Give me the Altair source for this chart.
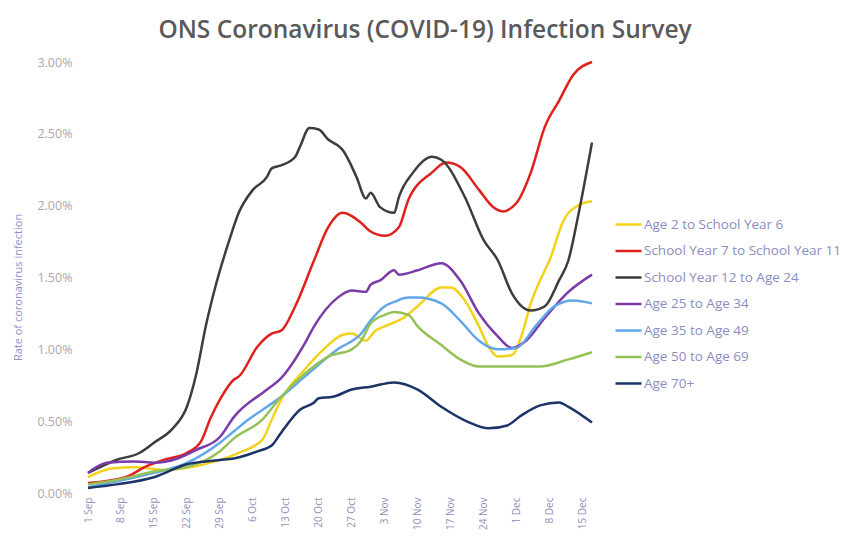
import json
import altair as alt
import pandas as pd

names = [
    "Age 2 to School Year 6",
    "School Year 7 to School Year 11",
    "School Year 12 to Age 24",
    "Age 25 to Age 34",
    "Age 35 to Age 49",
    "Age 50 to Age 69",
    "Age 70+",
]
colors = ["#f2d21b", "#e0201c", "#3d3d3d", "#7a3aa8", "#62a6ea", "#95c257", "#1d3468"]

tick_days = [0, 7, 14, 21, 28, 35, 42, 49, 56, 63, 70, 77, 84, 91, 98, 105]
tick_labels = ["1 Sep", "8 Sep", "15 Sep", "22 Sep", "29 Sep", "6 Oct", "13 Oct", "20 Oct",
               "27 Oct", "3 Nov", "10 Nov", "17 Nov", "24 Nov", "1 Dec", "8 Dec", "15 Dec"]

# days after 1 Sep, rate in %
yellow_days = [0, 5, 10, 16, 22, 27, 32, 37, 39, 41, 46, 50, 54, 56, 59, 61, 63, 67, 70, 75, 77, 80, 83, 85, 87, 90, 92, 94, 97, 98, 101, 104, 107]
yellow_vals = [0.11, 0.17, 0.18, 0.16, 0.18, 0.22, 0.28, 0.37, 0.51, 0.65, 0.86, 1.00, 1.10, 1.11, 1.06, 1.13, 1.16, 1.22, 1.30, 1.43, 1.43, 1.34, 1.16, 1.02, 0.95, 0.96, 1.09, 1.32, 1.55, 1.62, 1.90, 2.00, 2.03]

red_days = [0, 8, 12, 16, 21, 24, 26, 28, 31, 32, 36, 39, 41, 44, 48, 51, 54, 58, 60, 63, 66, 68, 73, 76, 79, 83, 86, 88, 91, 94, 97, 100, 103, 107]
red_vals = [0.07, 0.11, 0.18, 0.23, 0.28, 0.36, 0.52, 0.65, 0.79, 0.81, 1.02, 1.11, 1.13, 1.30, 1.62, 1.85, 1.95, 1.88, 1.82, 1.79, 1.85, 2.04, 2.23, 2.30, 2.27, 2.11, 1.99, 1.96, 2.02, 2.23, 2.55, 2.73, 2.91, 3.00]

black_days = [0, 6, 11, 14, 18, 21, 23, 25, 27, 30, 32, 35, 38, 39, 41, 44, 45, 47, 49, 51, 53, 54, 57, 59, 60, 62, 65, 66, 69, 73, 75, 80, 84, 87, 90, 94, 97, 100, 102, 104, 107]
black_vals = [0.14, 0.23, 0.28, 0.35, 0.45, 0.60, 0.83, 1.16, 1.43, 1.76, 1.95, 2.11, 2.20, 2.26, 2.28, 2.34, 2.41, 2.54, 2.53, 2.46, 2.42, 2.39, 2.20, 2.05, 2.09, 1.99, 1.95, 2.06, 2.23, 2.34, 2.32, 2.06, 1.76, 1.62, 1.39, 1.27, 1.30, 1.48, 1.62, 1.92, 2.44]

purple_days = [0, 4, 10, 14, 19, 23, 28, 31, 38, 41, 46, 48, 53, 56, 59, 60, 62, 65, 66, 70, 75, 79, 83, 87, 90, 93, 97, 102, 107]
purple_vals = [0.14, 0.21, 0.22, 0.21, 0.24, 0.30, 0.39, 0.53, 0.72, 0.80, 1.04, 1.16, 1.36, 1.41, 1.40, 1.45, 1.48, 1.55, 1.52, 1.55, 1.60, 1.48, 1.25, 1.09, 1.01, 1.06, 1.22, 1.40, 1.52]

blue_days = [0, 6, 14, 21, 28, 31, 34, 38, 41, 46, 53, 58, 60, 63, 65, 68, 70, 75, 79, 83, 87, 91, 95, 99, 103, 107]
blue_vals = [0.04, 0.08, 0.14, 0.21, 0.35, 0.43, 0.51, 0.60, 0.67, 0.81, 1.00, 1.11, 1.20, 1.30, 1.33, 1.36, 1.36, 1.32, 1.20, 1.06, 1.00, 1.01, 1.16, 1.30, 1.34, 1.32]

green_days = [0, 6, 14, 21, 28, 31, 37, 41, 46, 51, 56, 58, 60, 63, 65, 68, 70, 75, 79, 83, 89, 96, 102, 107]
green_vals = [0.06, 0.09, 0.15, 0.18, 0.29, 0.38, 0.51, 0.67, 0.83, 0.95, 1.00, 1.06, 1.18, 1.24, 1.26, 1.24, 1.16, 1.03, 0.93, 0.88, 0.88, 0.88, 0.93, 0.98]

navy_days = [0, 6, 14, 21, 25, 28, 31, 36, 39, 41, 45, 48, 49, 52, 56, 60, 65, 70, 75, 81, 85, 89, 92, 96, 100, 102, 107]
navy_vals = [0.035, 0.06, 0.11, 0.20, 0.22, 0.23, 0.24, 0.29, 0.33, 0.42, 0.58, 0.63, 0.66, 0.67, 0.72, 0.74, 0.77, 0.72, 0.60, 0.49, 0.45, 0.47, 0.54, 0.61, 0.63, 0.60, 0.49]

series = [
    (names[0], yellow_days, yellow_vals),
    (names[1], red_days, red_vals),
    (names[2], black_days, black_vals),
    (names[3], purple_days, purple_vals),
    (names[4], blue_days, blue_vals),
    (names[5], green_days, green_vals),
    (names[6], navy_days, navy_vals),
]

rows = []
for order, (name, days, vals) in enumerate(series):
    for d, v in zip(days, vals):
        rows.append({"group": name, "day": d, "rate": v / 100.0, "order": order})
df = pd.DataFrame(rows)

label_expr = json.dumps(tick_labels) + "[round(datum.value / 7)]"

chart = alt.Chart(df).mark_line(strokeWidth=2.5, interpolate="monotone").encode(
    x=alt.X(
        "day:Q",
        scale=alt.Scale(domain=[0, 107], nice=False, zero=False),
        axis=alt.Axis(
            values=tick_days, labelExpr=label_expr, labelAngle=-90, title=None,
            grid=False, ticks=False, domain=False, labelPadding=4,
            labelFont="Open Sans", labelFontSize=10, labelColor="#8c90b8",
        ),
    ),
    y=alt.Y(
        "rate:Q",
        scale=alt.Scale(domain=[0, 0.03], nice=False),
        axis=alt.Axis(
            values=[0, 0.005, 0.01, 0.015, 0.02, 0.025, 0.03], format=".2%",
            grid=False, ticks=False, domain=False, labelPadding=16,
            labelFont="Open Sans", labelFontSize=12.5, labelColor="#a8a8a8",
            title="Rate of coronavirus infection", titleFont="Open Sans",
            titleFontSize=11, titleFontWeight="normal", titleColor="#8d90c8",
            titleX=-70, titleY=225, titleAlign="center", titleBaseline="middle",
            titleAngle=-90,
        ),
    ),
    color=alt.Color(
        "group:N",
        scale=alt.Scale(domain=names, range=colors),
        legend=alt.Legend(
            title=None, orient="none", legendX=526, legendY=148,
            symbolType="stroke", symbolSize=676, symbolStrokeWidth=2.5,
            labelFont="Open Sans", labelFontSize=13.5, labelColor="#8a8dc0",
            labelOffset=1, rowPadding=5.5, labelLimit=320,
        ),
    ),
    order=alt.Order("order:Q"),
).properties(
    width=504,
    height=431,
    autosize=alt.AutoSizeParams(type="none"),
    padding={"left": 80, "top": 54, "right": 252, "bottom": 38},
    title=alt.TitleParams(
        "ONS Coronavirus (COVID-19) Infection Survey",
        font="Open Sans", fontSize=24.5, fontWeight=600, color="#5a5a5a",
        anchor="middle", dx=85, offset=13,
    ),
).configure_view(stroke=None)

chart.save("out.html", embed_options={"renderer": "svg", "actions": False})
